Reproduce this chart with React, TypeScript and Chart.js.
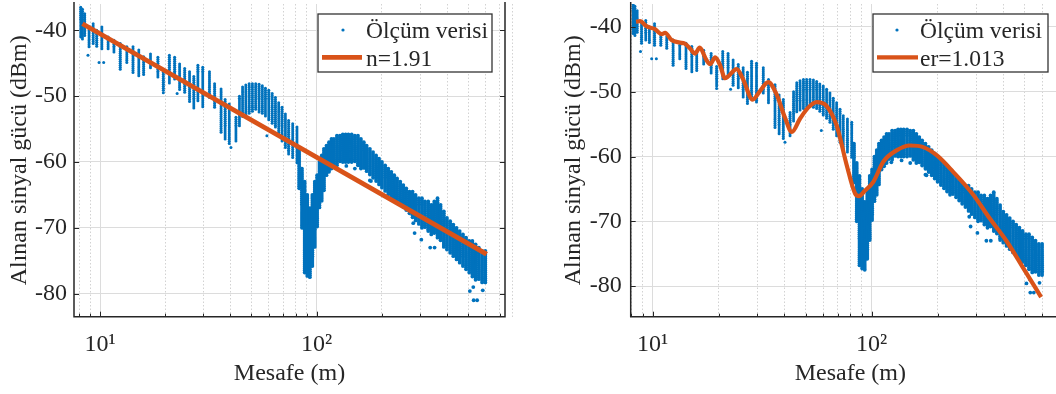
import React, { useEffect, useRef } from 'react';
import { Chart, registerables } from 'chart.js';

Chart.register(...registerables);

// ---------------- data ----------------
// measurement positions (m) and the spread of received power (dBm) at each
const measDist = [8.15, 8.3, 8.5, 8.9, 9.3, 9.66, 10.2, 10.9, 11.6, 12.4, 13.3, 14.2, 15.1, 15.9, 17.1, 18.5, 19.6, 20.9, 22.1, 23.3, 24.6, 25.9, 27.1, 28.3, 29.8, 32.0, 33.8, 36.2, 37.8, 39.5, 42.4, 44.0, 45.5, 47.1, 48.8, 50.5, 52.3, 54.2, 56.1, 58.0, 60.1, 62.3, 64.5, 66.8, 69.2, 71.7, 74.2, 77.5, 81.1, 83, 85.5, 88, 90.5, 93, 95.5, 98, 100.5, 103, 105.5, 108, 111, 114, 117, 120, 124, 128, 132, 136, 140, 145, 150, 155, 160, 165, 170, 176, 182, 188, 194, 200, 207, 214, 221, 228, 235, 243, 251, 259, 268, 277, 286, 296, 306, 316, 327, 338, 349, 361, 373, 386, 399, 413, 427, 442, 457, 473, 489, 506, 523, 541, 560, 580, 600];
const measHigh = [-36.5, -36.8, -37.5, -39.5, -39.0, -40.0, -39.5, -41.0, -41.5, -42.0, -42.5, -42.5, -43.0, -44.0, -43.6, -44.1, -46.1, -43.8, -44.1, -45.1, -45.8, -46.3, -47.0, -45.3, -45.6, -46.3, -48.1, -48.9, -50.5, -51.2, -53.2, -50.0, -48.6, -48.3, -48.1, -48.1, -48.1, -48.2, -48.4, -48.8, -49.1, -49.6, -50.2, -51.0, -51.7, -52.7, -53.7, -54.2, -54.7, -58, -61, -63, -65, -67, -65, -63, -62, -60, -59, -58, -57.5, -57, -56.5, -56.5, -56, -56, -55.8, -55.8, -55.8, -55.8, -56, -56, -56.5, -57, -57.5, -58, -58.5, -59, -59.5, -60, -60.5, -61, -61.5, -62, -62.5, -63, -63.5, -64, -64.5, -64.5, -65, -65.5, -65.5, -66, -66, -66.5, -66, -65.5, -66.5, -67.5, -68.5, -69, -69.5, -70, -70.5, -71, -71.5, -72, -72, -72.5, -73, -73.5, -73.5];
const measLow = [-41.0, -41.5, -41.0, -42.5, -42.0, -42.5, -42.8, -43.0, -43.3, -46.1, -45.1, -46.6, -47.1, -46.9, -45.8, -47.1, -49.1, -48.1, -47.6, -49.1, -49.6, -50.9, -52.0, -50.7, -51.7, -50.2, -51.7, -55.7, -56.5, -57.3, -56.8, -54.5, -53.2, -52.9, -52.7, -52.5, -52.2, -52.5, -52.7, -53.2, -53.7, -54.2, -54.7, -55.8, -56.8, -57.8, -58.8, -59.5, -60.3, -64, -70, -77, -77.5, -77.5, -76, -73, -70, -67, -66, -64.5, -62, -61.5, -61, -60.5, -60.5, -60, -60, -60, -60, -60, -60, -60.5, -61, -61, -61.5, -62, -62.5, -63, -63.5, -64, -64.5, -65, -65.5, -66, -66, -66.5, -67, -67.5, -68, -68.5, -69, -69.5, -70, -70, -70.5, -71, -71, -71.5, -72, -73, -73.5, -74, -74.5, -75, -75.5, -76, -76.5, -77, -77.5, -78, -78, -78.5, -78.5];
// receiver resolution used to list the readings inside each spread
const measStep = 0.3;
// beyond this distance the measurements are continuous (dense cloud)
const denseFrom = 82;

// isolated stray measurements
const strayDist = [8.8, 9.9, 10.4, 19.6, 22.7, 40.2, 58.9, 123, 137, 150, 176, 178, 279, 283, 304, 334, 350, 509, 528, 530, 550, 584];
const strayVal = [-43.8, -44.9, -44.9, -49.5, -49.6, -57.8, -56.0, -60.9, -60.6, -61.0, -62.8, -62.9, -69.3, -70.8, -71.8, -73.0, -73.0, -79.6, -79.0, -81.0, -81.0, -79.5];

// left panel: log-distance fit (n = 1.91)
const fitLeftDist = [8.3, 608];
const fitLeftVal = [-39.0, -74.0];

// right panel: two-ray fit (er = 1.013)
const fitRightDist = [8.4, 8.75, 9.4, 10.2, 11.0, 11.4, 12.2, 13.3, 14.0, 14.8, 15.6, 16.4, 17.6, 18.3, 19.3, 20.3, 21.4, 24.2, 25.9, 28.6, 30.9, 33.7, 36.8, 40.2, 43.2, 47.0, 51.3, 56.1, 62.3, 69.2, 76.9, 84.0, 87.5, 93, 101.8, 113, 130, 149.5, 172, 198, 236, 291, 345, 412, 490, 594];
const fitRightVal = [-39.2, -39.1, -39.9, -40.3, -41.1, -40.9, -42.0, -42.4, -42.55, -43.3, -44.1, -43.2, -45.1, -45.75, -44.7, -45.85, -47.9, -46.5, -48.1, -51.2, -49.9, -48.5, -50.4, -54.0, -56.2, -54.2, -52.45, -51.6, -52.2, -55.2, -61.3, -65.7, -66.1, -65.3, -63.9, -60.8, -59.05, -58.3, -58.55, -59.8, -62.4, -65.9, -69.5, -73.0, -77.1, -81.7];

const measLabel = 'Ölçüm verisi';
const leftFitLabel = 'n=1.91';
const rightFitLabel = 'er=1.013';

const xTickValues = [8, 9, 10, 20, 30, 40, 50, 60, 70, 80, 90, 100, 200, 300, 400, 500, 600, 700, 800];
const xTickLabels: Record<number, string> = { 10: '10¹', 100: '10²' };
const yTickValues = [-80, -70, -60, -50, -40];

const xTitle = 'Mesafe (m)';
const yTitle = 'Alınan sinyal gücü (dBm)';

// ---------------- styles ----------------
const FONT = "'Liberation Serif', 'Times New Roman', Times, serif";
const INK = '#262626';
const BLUE = '#0072BD';
const ORANGE = '#D95319';
const GRID_MAJOR = '#dcdcdc';
const GRID_MINOR = '#d2d2d2';
const FS = 24;

function expandSpread(dist: number[], low: number[], high: number[], step: number) {
  const pts: { x: number; y: number }[] = [];
  for (let i = 0; i < dist.length; i++) {
    for (let v = high[i]; v >= low[i] - 1e-6; v -= step) {
      pts.push({ x: dist[i], y: Math.round(v * 100) / 100 });
    }
  }
  return pts;
}

const pairs = (xs: number[], ys: number[]) => xs.map((x, i) => ({ x, y: ys[i] }));

const framePlugin = {
  id: 'matlabFrame',
  afterDatasetsDraw(chart: any) {
    const { ctx, chartArea: a, scales } = chart;
    const xs = scales.x;
    const ys = scales.y;
    ctx.save();
    ctx.strokeStyle = INK;
    ctx.lineWidth = 1;
    ctx.beginPath();
    for (const t of ys.ticks) {
      const py = Math.round(ys.getPixelForValue(t.value)) + 0.5;
      ctx.moveTo(a.left, py);
      ctx.lineTo(a.left + 5, py);
      ctx.moveTo(a.right, py);
      ctx.lineTo(a.right - 5, py);
    }
    for (const t of xs.ticks) {
      if (t.value < xs.min || t.value > xs.max) continue;
      const px = Math.round(xs.getPixelForValue(t.value)) + 0.5;
      const len = xTickLabels[t.value] ? 5 : 3;
      ctx.moveTo(px, a.bottom);
      ctx.lineTo(px, a.bottom - len);
    }
    ctx.stroke();
    // box: left, bottom, right (top edge lies outside the picture)
    ctx.lineWidth = 1.5;
    ctx.beginPath();
    ctx.moveTo(a.left, a.top - 2);
    ctx.lineTo(a.left, a.bottom);
    ctx.lineTo(a.right, a.bottom);
    ctx.lineTo(a.right, a.top - 2);
    ctx.stroke();
    ctx.restore();
  },
};

const legendPlugin = {
  id: 'boxLegend',
  afterDraw(chart: any, _args: any, o: any) {
    const { ctx } = chart;
    const ds = chart.data.datasets;
    const meas = ds.find((d: any) => d.type === 'scatter');
    const fit = ds.find((d: any) => d.type === 'line');
    ctx.save();
    ctx.fillStyle = '#ffffff';
    ctx.fillRect(o.left, o.top, o.width, o.height);
    ctx.strokeStyle = '#333333';
    ctx.lineWidth = 1.3;
    ctx.strokeRect(o.left, o.top, o.width, o.height);
    ctx.fillStyle = meas.backgroundColor;
    ctx.beginPath();
    ctx.arc(o.markerX, o.row1Y, 1.6, 0, Math.PI * 2);
    ctx.fill();
    ctx.strokeStyle = fit.borderColor;
    ctx.lineWidth = fit.borderWidth;
    ctx.beginPath();
    ctx.moveTo(o.lineX0, o.row2Y);
    ctx.lineTo(o.lineX1, o.row2Y);
    ctx.stroke();
    ctx.fillStyle = INK;
    ctx.font = `${o.fontSize}px ${FONT}`;
    ctx.textAlign = 'left';
    ctx.textBaseline = 'alphabetic';
    ctx.fillText(meas.label, o.textX, o.row1Base);
    ctx.fillText(fit.label, o.textX, o.row2Base);
    ctx.restore();
  },
};

function buildConfig(p: any): any {
  const measPoints = [...expandSpread(measDist, measLow, measHigh, measStep), ...pairs(strayDist, strayVal)];
  return {
    type: 'scatter',
    data: {
      datasets: [
        {
          type: 'line',
          label: p.fitLabel,
          data: pairs(p.fitDist, p.fitVal),
          borderColor: ORANGE,
          backgroundColor: ORANGE,
          borderWidth: p.lineWidth,
          pointRadius: 0,
          cubicInterpolationMode: 'monotone',
          borderCapStyle: 'butt',
          order: 0,
        },
        {
          type: 'scatter',
          label: measLabel,
          data: measPoints,
          backgroundColor: BLUE,
          pointBackgroundColor: BLUE,
          pointBorderWidth: 0,
          borderWidth: 0,
          pointRadius: (c: any) => (c.raw && c.raw.x > denseFrom ? 1.9 : 1.5),
          order: 1,
        },
      ],
    },
    options: {
      responsive: false,
      animation: false,
      devicePixelRatio: 1,
      events: [],
      layout: { padding: { left: 0, top: 0, right: p.padRight, bottom: 0 } },
      plugins: {
        legend: { display: false },
        tooltip: { enabled: false },
        boxLegend: p.legend,
      },
      scales: {
        x: {
          type: 'logarithmic',
          position: 'bottom',
          min: p.xMin,
          max: p.xMax,
          afterBuildTicks: (s: any) => {
            s.ticks = xTickValues.map((v) => ({ value: v, major: !!xTickLabels[v] }));
          },
          afterFit: (s: any) => {
            s.height = p.xAxisHeight;
            s.paddingLeft = 0;
            s.paddingRight = 0;
          },
          ticks: {
            autoSkip: false,
            maxRotation: 0,
            minRotation: 0,
            padding: 14,
            color: INK,
            font: { family: FONT, size: FS },
            callback: (v: any) => xTickLabels[v] || '',
          },
          grid: {
            drawTicks: false,
            lineWidth: 1,
            color: (c: any) => (c.tick && xTickLabels[c.tick.value] ? GRID_MAJOR : GRID_MINOR),
          },
          border: {
            display: false,
            dash: (c: any) => (c.tick && xTickLabels[c.tick.value] ? [] : [1.5, 2]),
          },
          title: {
            display: true,
            text: xTitle,
            color: INK,
            font: { family: FONT, size: FS },
            padding: { top: 0, bottom: 5.4 },
          },
        },
        y: {
          type: 'linear',
          position: 'left',
          min: p.yMin,
          max: p.yMax,
          afterBuildTicks: (s: any) => {
            s.ticks = yTickValues.map((v) => ({ value: v }));
          },
          afterFit: (s: any) => {
            s.width = p.yAxisWidth;
            s.paddingTop = 0;
            s.paddingBottom = 0;
          },
          ticks: {
            padding: p.yTickPad,
            color: INK,
            font: { family: FONT, size: FS },
            callback: (v: any) => `${v}`,
          },
          grid: { drawTicks: false, lineWidth: 1, color: GRID_MAJOR },
          border: { display: false },
          title: {
            display: true,
            text: yTitle,
            color: INK,
            font: { family: FONT, size: FS },
            padding: { top: p.yTitlePad, bottom: 0 },
          },
        },
      },
    },
    plugins: [framePlugin, legendPlugin],
  };
}

const LEFT = {
  fitDist: fitLeftDist,
  fitVal: fitLeftVal,
  fitLabel: leftFitLabel,
  lineWidth: 4.8,
  xMin: 7.586,
  xMax: 739.6,
  yMin: -83.5,
  yMax: -36.0,
  yAxisWidth: 74,
  xAxisHeight: 77.3,
  padRight: 15,
  yTickPad: 7,
  yTitlePad: 4.9,
  legend: { left: 318, top: 14, width: 174, height: 58, markerX: 343, row1Y: 30, row1Base: 37.7, lineX0: 322, lineX1: 362, row2Y: 57.3, row2Base: 66, textX: 366, fontSize: 23.5 },
};

const RIGHT = {
  fitDist: fitRightDist,
  fitVal: fitRightVal,
  fitLabel: rightFitLabel,
  lineWidth: 4.2,
  xMin: 7.94,
  xMax: 804.7,
  yMin: -84.73,
  yMax: -36.45,
  yAxisWidth: 74.7,
  xAxisHeight: 77.3,
  padRight: 10,
  yTickPad: 9,
  yTitlePad: 3.6,
  legend: { left: 317, top: 14, width: 175, height: 58, markerX: 341, row1Y: 30, row1Base: 37.7, lineX0: 321, lineX1: 362, row2Y: 57.3, row2Base: 66, textX: 364, fontSize: 23.5 },
};

export default function App() {
  const leftRef = useRef<HTMLCanvasElement>(null);
  const rightRef = useRef<HTMLCanvasElement>(null);
  useEffect(() => {
    const a = new Chart(leftRef.current as HTMLCanvasElement, buildConfig(LEFT));
    const b = new Chart(rightRef.current as HTMLCanvasElement, buildConfig(RIGHT));
    return () => {
      a.destroy();
      b.destroy();
    };
  }, []);
  return (
    <div style={{ position: 'fixed', left: 0, top: 0, width: 1056, height: 394, overflow: 'hidden', background: '#ffffff' }}>
      <canvas ref={leftRef} width={520} height={394} style={{ position: 'absolute', left: 0, top: 0, width: 520, height: 394 }} />
      <canvas ref={rightRef} width={524} height={394} style={{ position: 'absolute', left: 556, top: 0, width: 524, height: 394 }} />
    </div>
  );
}
